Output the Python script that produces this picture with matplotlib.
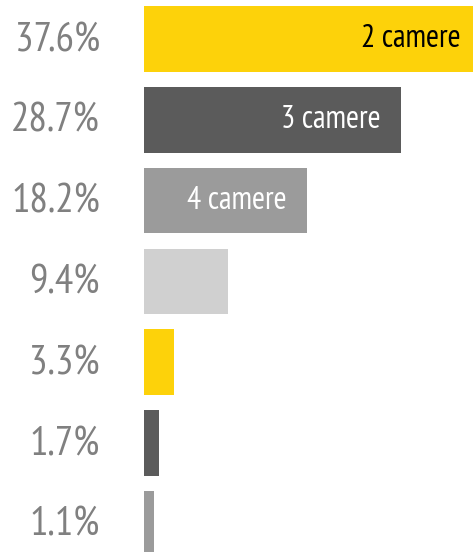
import matplotlib
matplotlib.use("Agg")
from matplotlib import pyplot as plt

values = [37.6, 28.7, 18.2, 9.4, 3.3, 1.7, 1.1]
value_labels = ["37.6%", "28.7%", "18.2%", "9.4%", "3.3%", "1.7%", "1.1%"]
inner_labels = ["2 camere", "3 camere", "4 camere", "", "", "", ""]

yellow = "#fdd20a"
dark = "#5b5b5b"
mid = "#9b9b9b"
light = "#d0d0d0"
colors = [yellow, dark, mid, light, yellow, dark, mid]
inner_colors = ["black", "white", "white", "white", "white", "white", "white"]

plt.rcParams['font.family'] = ["PT Sans Narrow", "DejaVu Sans"]

fig = plt.figure(figsize=(4.73, 5.52), dpi=100)
W, H = 473, 552
ax = fig.add_axes([144 / W, 0, 1 - 144 / W, 1])

ypos = list(range(len(values)))
ax.barh(ypos, values, height=0.81, color=colors)

ax.set_xlim(0, 36.68)
ax.set_ylim(6.35, -0.483)
ax.axis("off")

for i, v in enumerate(values):
    ax.text(-4.9, i + 0.02, value_labels[i], ha="right", va="center", fontsize=29.5, color="#808080",
            clip_on=False)
    if inner_labels[i]:
        ax.text(v - 2.3, i, inner_labels[i], ha="right", va="center", fontsize=22.7,
                color=inner_colors[i])

fig.savefig("out.png", dpi=100)
